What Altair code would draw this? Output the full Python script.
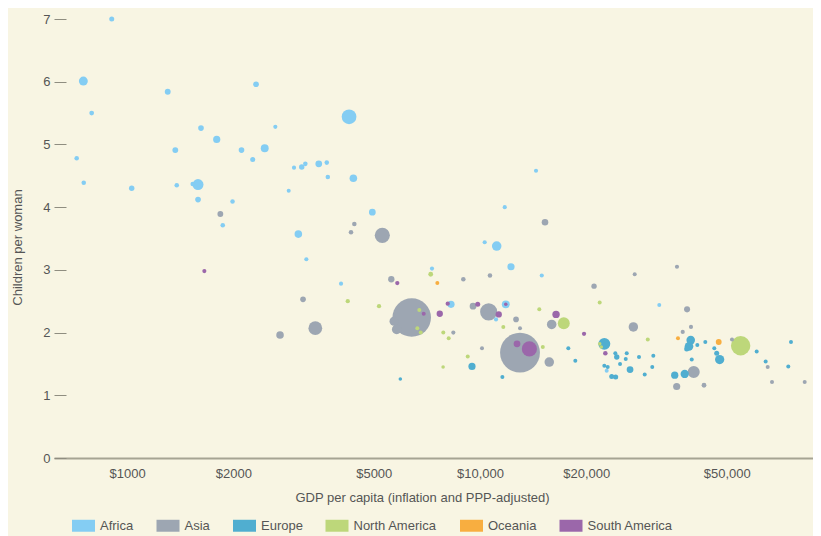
import altair as alt
import pandas as pd

regions = ["Africa", "Asia", "Europe", "North America", "Oceania", "South America"]
region_colors = ["#84cdf3", "#9da6b2", "#50aed0", "#bdd77a", "#f8ae40", "#9b67aa"]

# GDP per capita ($), children per woman, population (millions)
africa_gdp = [905, 752, 1304, 2320, 794, 1620, 2631, 1795, 720, 1370, 2110, 2270, 2455, 754, 1031,
              1383, 1589, 1535, 1589, 1990, 1867, 2972, 3126, 3200, 3493, 3680, 3705, 4377, 2871, 4256,
              14410, 11750, 4954, 3057, 3221, 4039, 10310, 11150, 12240, 14960, 7310, 8276, 11830, 11100,
              32200, 22850]
africa_children = [7.00, 6.01, 5.84, 5.96, 5.50, 5.26, 5.28, 5.08, 4.78, 4.91, 4.91, 4.76, 4.94, 4.39, 4.30,
                   4.35, 4.36, 4.37, 4.12, 4.09, 3.71, 4.63, 4.64, 4.69, 4.69, 4.71, 4.48, 4.46, 4.26, 5.44,
                   4.58, 4.00, 3.92, 3.57, 3.17, 2.78, 3.44, 3.38, 3.05, 2.91, 3.02, 2.45, 2.45, 2.21,
                   2.44, 1.39]
africa_pop = [22, 70, 30, 28, 20, 28, 15, 45, 18, 30, 28, 22, 55, 18, 26,
              18, 105, 18, 28, 18, 18, 15, 26, 18, 40, 18, 18, 50, 14, 190,
              15, 15, 40, 50, 15, 15, 15, 80, 45, 15, 15, 45, 55, 15,
              14, 14]

asia_gdp = [1838, 4405, 4310, 5287, 15280, 2713, 3415, 3152, 5606, 8969, 10670, 6405, 5705, 5807, 8402,
            9555, 10580, 12650, 12980, 15960, 12980, 15710, 10130, 36140, 27430, 21040, 38600, 27190, 37520,
            39600, 51740, 40310, 36070, 43110, 65310, 67170, 83140]
asia_children = [3.89, 3.73, 3.60, 3.55, 3.76, 1.96, 2.07, 2.53, 2.85, 2.85, 2.91, 2.24, 2.18, 2.05, 2.00,
                 2.42, 2.33, 2.21, 2.07, 2.13, 1.68, 1.53, 1.75, 3.05, 2.93, 2.74, 2.37, 2.09, 2.01,
                 2.09, 1.89, 1.37, 1.14, 1.16, 1.45, 1.21, 1.21]
asia_pop = [30, 18, 18, 200, 38, 50, 165, 28, 35, 18, 18, 1300, 70, 80, 15,
            40, 255, 28, 14, 80, 1390, 80, 14, 15, 14, 25, 32, 78, 15,
            15, 14, 127, 45, 20, 14, 14, 14]

europe_gdp = [9490, 11570, 5946, 17790, 18620, 22500, 24170, 24400, 26040, 25870, 28210, 30970, 24930,
              26610, 22500, 23000, 23610, 24230, 29280, 30760, 35610, 38010, 39530, 39090, 38510, 41270,
              43470, 46100, 46830, 47750, 39790, 60790, 64450, 74700, 76030]
europe_children = [1.46, 1.29, 1.26, 1.75, 1.55, 1.82, 1.67, 1.61, 1.67, 1.58, 1.61, 1.63, 1.50,
                   1.41, 1.47, 1.45, 1.30, 1.29, 1.33, 1.45, 1.32, 1.34, 1.88, 1.78, 1.74, 1.80,
                   1.85, 1.75, 1.67, 1.57, 1.57, 1.70, 1.54, 1.46, 1.85]
europe_pop = [45, 14, 11, 14, 14, 125, 14, 25, 14, 14, 14, 14, 14,
              40, 14, 14, 22, 22, 14, 14, 46, 60, 65, 65, 22, 14,
              14, 14, 22, 75, 14, 14, 14, 14, 14]

namerica_gdp = [7250, 4220, 5175, 6730, 6644, 6792, 7870, 8153, 11640, 14720, 17270, 15060, 9230, 7860,
                21830, 29870, 54750, 21830, 22060]
namerica_children = [2.93, 2.50, 2.42, 2.36, 2.07, 2.00, 2.00, 1.91, 2.09, 2.37, 2.15, 1.77, 1.62, 1.45,
                     2.48, 1.89, 1.79, 1.82, 1.77]
namerica_pop = [20, 16, 16, 14, 14, 14, 14, 14, 14, 14, 125, 14, 14, 11,
                14, 14, 330, 11, 11]

oceania_gdp = [7570, 36380, 47450]
oceania_children = [2.79, 1.91, 1.85]
oceania_pop = [14, 14, 30]

samerica_gdp = [1656, 5830, 6926, 7690, 8100, 9850, 11300, 11830, 16420, 12730, 13800, 19710, 22650]
samerica_children = [2.98, 2.79, 2.30, 2.30, 2.46, 2.45, 2.29, 2.45, 2.29, 1.82, 1.74, 1.98, 1.67]
samerica_pop = [15, 16, 14, 35, 16, 22, 35, 11, 48, 40, 200, 16, 18]

x_tick_values = [1000, 2000, 5000, 10000, 20000, 50000]
x_tick_labels = ["$1000", "$2000", "$5000", "$10,000", "$20,000", "$50,000"]
y_tick_values = [0, 1, 2, 3, 4, 5, 6, 7]

series = [
    ("Africa", africa_gdp, africa_children, africa_pop),
    ("Asia", asia_gdp, asia_children, asia_pop),
    ("Europe", europe_gdp, europe_children, europe_pop),
    ("North America", namerica_gdp, namerica_children, namerica_pop),
    ("Oceania", oceania_gdp, oceania_children, oceania_pop),
    ("South America", samerica_gdp, samerica_children, samerica_pop),
]
rows = []
for name, g, c, p in series:
    for gi, ci, pi in zip(g, c, p):
        rows.append({"region": name, "gdp": gi, "children": ci, "pop": pi})
df = pd.DataFrame(rows)

label_expr = ""
for v, lab in zip(x_tick_values, x_tick_labels):
    label_expr += f"datum.value == {v} ? '{lab}' : "
label_expr += "''"

FONT = "Liberation Sans"
TXT = "#555555"

chart = alt.Chart(df).mark_circle(opacity=1, strokeWidth=0).encode(
    x=alt.X(
        "gdp:Q",
        scale=alt.Scale(type="log", domain=[621, 87770], nice=False),
        axis=alt.Axis(
            values=x_tick_values, labelExpr=label_expr, ticks=False, tickSize=0,
            domain=True, domainColor="#a6a493", domainWidth=2, grid=False,
            labelPadding=9, labelFont=FONT, labelFontSize=13, labelColor=TXT,
            title="GDP per capita (inflation and PPP-adjusted)", titleFont=FONT,
            titleFontSize=13, titleFontWeight="normal", titleColor=TXT,
            titleX=368, titleY=39, titleBaseline="middle",
        ),
    ),
    y=alt.Y(
        "children:Q",
        scale=alt.Scale(domain=[0, 7], nice=False),
        axis=alt.Axis(
            values=y_tick_values, tickSize=12, offset=-12, domain=False, grid=False,
            tickColor="#8f8d80", tickWidth=1, labelPadding=4,
            labelFont=FONT, labelFontSize=13, labelColor=TXT,
            title="Children per woman", titleFont=FONT, titleFontSize=13,
            titleFontWeight="normal", titleColor=TXT,
            titleX=-48.5, titleY=228, titleBaseline="middle",
        ),
    ),
    size=alt.Size("pop:Q", scale=alt.Scale(type="linear", domain=[0, 1400], range=[0, 1600]), legend=None),
    color=alt.Color(
        "region:N",
        scale=alt.Scale(domain=regions, range=region_colors),
        legend=alt.Legend(
            title=None, orient="none", legendX=18, legendY=495, direction="horizontal",
            symbolType="M-1,-0.52H1V0.52H-1Z", symbolSize=529, symbolStrokeWidth=0,
            symbolOpacity=1, labelFont=FONT, labelFontSize=13, labelColor=TXT,
            labelOffset=5, columnPadding=22.5, padding=0,
        ),
    ),
    order=alt.Order("pop:Q", sort="descending"),
).properties(
    width=759,
    height=439,
    padding={"left": 46, "top": 11, "right": 0, "bottom": 78},
    autosize=alt.AutoSizeParams(type="none"),
    background="#f8f5e3",
).configure_view(strokeWidth=0)

chart.save("out.html", embed_options={"renderer": "svg", "actions": False})
